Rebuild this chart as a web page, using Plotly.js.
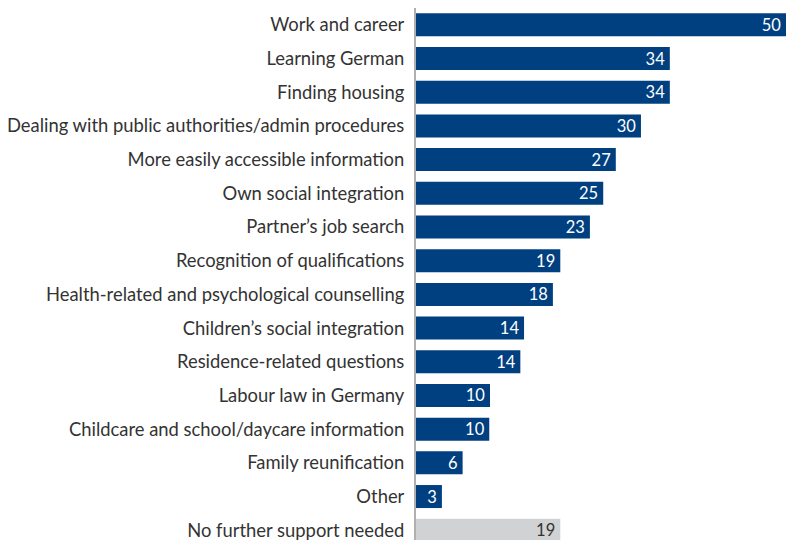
<!DOCTYPE html>
<html>
<head>
<meta charset="utf-8">
<script src="https://cdn.plot.ly/plotly-3.0.1.min.js"></script>
<style>html,body{margin:0;padding:0;background:#fff;}#chart{width:786px;height:540px;}</style>
</head>
<body>
<div id="chart"></div>
<script>
const categories = [
  "Work and career",
  "Learning German",
  "Finding housing",
  "Dealing with public authorities/admin procedures",
  "More easily accessible information",
  "Own social integration",
  "Partner\u2019s job search",
  "Recognition of qualifications",
  "Health-related and psychological counselling",
  "Children\u2019s social integration",
  "Residence-related questions",
  "Labour law in Germany",
  "Childcare and school/daycare information",
  "Family reunification",
  "Other",
  "No further support needed"
];
const values = [50, 34.3, 34.3, 30.4, 27.0, 25.3, 23.5, 19.5, 18.5, 14.6, 14.1, 10.0, 9.9, 6.3, 3.5, 19.5];
const valueLabels = ["50", "34", "34", "30", "27", "25", "23", "19", "18", "14", "14", "10", "10", "6", "3", "19"];
const barColors = categories.map((c, i) => i === categories.length - 1 ? "#d1d2d4" : "#003f80");
const textColors = categories.map((c, i) => i === categories.length - 1 ? "#333333" : "#ffffff");

const FONT = "Lato, 'Source Sans Pro', sans-serif";

const trace = {
  type: "bar",
  orientation: "h",
  y: categories,
  x: values,
  text: valueLabels,
  texttemplate: "%{text}\u2009",
  textposition: "inside",
  insidetextanchor: "end",
  constraintext: "none",
  textangle: 0,
  textfont: {family: FONT, size: 16.5, color: textColors},
  marker: {color: barColors, line: {width: 0}},
  hoverinfo: "none",
  cliponaxis: false
};

const layout = {
  width: 786,
  height: 540,
  margin: {l: 416, r: 0, t: 8, b: 0, pad: 0},
  paper_bgcolor: "#ffffff",
  plot_bgcolor: "#ffffff",
  bargap: 0.317,
  showlegend: false,
  font: {family: FONT, size: 18.4, color: "#333333"},
  xaxis: {range: [0, 50], visible: false, fixedrange: true},
  yaxis: {
    type: "category",
    categoryorder: "array",
    categoryarray: categories,
    range: [15.29, -0.5],
    showline: true,
    linecolor: "#b0b0b0",
    linewidth: 2,
    showgrid: false,
    zeroline: false,
    ticks: "",
    ticklabelstandoff: 6,
    tickfont: {family: FONT, size: 18.4, color: "#333333"},
    fixedrange: true
  }
};

Plotly.newPlot("chart", [trace], layout, {displayModeBar: false, staticPlot: true});
</script>
</body>
</html>
